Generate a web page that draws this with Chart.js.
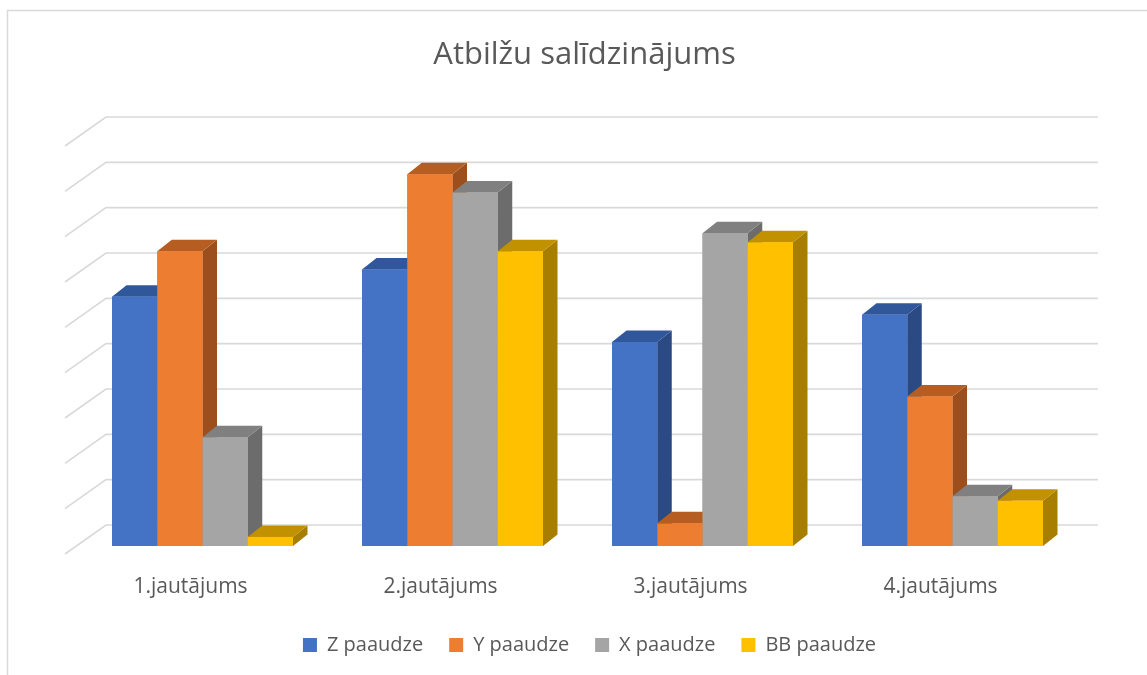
<!DOCTYPE html>
<html><head><meta charset="utf-8">
<script src="https://cdn.jsdelivr.net/npm/chart.js@4.4.0/dist/chart.umd.min.js"></script>
<style>html,body{margin:0;padding:0;background:#fff;overflow:hidden;}</style>
</head><body>
<canvas id="c" width="1147" height="675" style="width:1147px;height:675px;display:block"></canvas>
<script>
// ---- data ----
const categories = ['1.jautājums', '2.jautājums', '3.jautājums', '4.jautājums'];
const seriesNames = ['Z paaudze', 'Y paaudze', 'X paaudze', 'BB paaudze'];
const zValues  = [55, 61, 45, 51];
const yValues  = [65, 82, 5, 33];
const xValues  = [24, 78, 69, 11];
const bbValues = [2, 65, 67, 10];
const gridTicks = [0, 10, 20, 30, 40, 50, 60, 70, 80, 90];
const titleText = 'Atbilžu salīdzinājums';

// ---- styles ----
const frontColors = ['#4472C4', '#ED7D31', '#A5A5A5', '#FFC000'];
const sideColors  = ['#2B4A83', '#9C4F1C', '#6C6C6C', '#A77E00'];
const topColors   = ['#31579B', '#B65E22', '#808080', '#C29100'];
const TEXT = '#595959';
const GRID = '#D9D9D9';
const BAR_DX = 14.5, BAR_DY = -11.5;
const WALL_DX = 28.5, WALL_DY = -21, WALL_RIGHT_EXTRA = 20.5;
const FLOOR_DX = 41, FLOOR_DY = 29;

const threeD = {
  id: 'threeD',
  afterLayout(chart) {
    if (chart.legend) { chart.legend.left += 12; chart.legend.right += 12; }
    if (chart.titleBlock) { chart.titleBlock.left += 7; chart.titleBlock.right += 7; }
  },
  beforeDraw(chart) {
    const ctx = chart.ctx;
    ctx.save();
    ctx.strokeStyle = GRID;
    ctx.lineWidth = 1.5;
    ctx.beginPath();
    ctx.moveTo(7.5, 700);
    ctx.lineTo(7.5, 10.5);
    ctx.lineTo(1200, 10.5);
    ctx.stroke();
    ctx.restore();
  },
  beforeDatasetsDraw(chart) {
    const ctx = chart.ctx, ys = chart.scales.y, area = chart.chartArea;
    ctx.save();
    ctx.strokeStyle = GRID;
    ctx.lineWidth = 1.6;
    gridTicks.forEach(v => {
      const y = ys.getPixelForValue(v) + WALL_DY;
      const xb = area.left + WALL_DX;
      ctx.beginPath();
      ctx.moveTo(xb - FLOOR_DX, y + FLOOR_DY);
      ctx.lineTo(xb, y);
      ctx.lineTo(area.right + WALL_RIGHT_EXTRA, y);
      ctx.stroke();
    });
    ctx.restore();
  },
  afterDatasetsDraw(chart) {
    const ctx = chart.ctx;
    const bars = [];
    chart.data.datasets.forEach((ds, i) => {
      chart.getDatasetMeta(i).data.forEach(el => {
        const p = el.getProps(['x', 'y', 'base', 'width'], true);
        bars.push({ l: p.x - p.width / 2, r: p.x + p.width / 2, t: p.y, b: p.base, i });
      });
    });
    bars.sort((a, b) => a.l - b.l);
    ctx.save();
    bars.forEach(bar => {
      ctx.fillStyle = sideColors[bar.i];
      ctx.beginPath();
      ctx.moveTo(bar.r, bar.t);
      ctx.lineTo(bar.r + BAR_DX, bar.t + BAR_DY);
      ctx.lineTo(bar.r + BAR_DX, bar.b + BAR_DY);
      ctx.lineTo(bar.r, bar.b);
      ctx.closePath();
      ctx.fill();
      ctx.fillStyle = topColors[bar.i];
      ctx.beginPath();
      ctx.moveTo(bar.l, bar.t);
      ctx.lineTo(bar.l + BAR_DX, bar.t + BAR_DY);
      ctx.lineTo(bar.r + BAR_DX, bar.t + BAR_DY);
      ctx.lineTo(bar.r, bar.t);
      ctx.closePath();
      ctx.fill();
      ctx.fillStyle = frontColors[bar.i];
      ctx.fillRect(bar.l, bar.t, bar.r - bar.l, bar.b - bar.t);
    });
    ctx.restore();
  }
};

const seriesValues = [zValues, yValues, xValues, bbValues];
new Chart(document.getElementById('c'), {
  type: 'bar',
  data: {
    labels: categories,
    datasets: seriesNames.map((n, i) => ({
      label: n,
      data: seriesValues[i],
      backgroundColor: frontColors[i],
      borderWidth: 0,
      barPercentage: 1,
      categoryPercentage: 0.724
    }))
  },
  plugins: [threeD],
  options: {
    responsive: false,
    animation: false,
    layout: { padding: { left: 77.5, right: 69.5, top: 0, bottom: 10 } },
    plugins: {
      title: {
        display: true, text: titleText, color: TEXT,
        font: { family: 'Open Sans', size: 31, weight: 'normal', lineHeight: 1.2 },
        padding: { top: 36.4, bottom: 64.4 }
      },
      legend: {
        position: 'bottom',
        labels: {
          color: TEXT, boxWidth: 14, boxHeight: 14, padding: 26,
          font: { family: 'Open Sans', size: 20 }
        }
      },
      tooltip: { enabled: false }
    },
    scales: {
      x: {
        grid: { display: false }, border: { display: false },
        ticks: { color: TEXT, font: { family: 'Open Sans', size: 21 }, padding: 20, labelOffset: -12 },
        afterFit(scale) { scale.height = 63; }
      },
      y: { display: false, min: 0, max: 90 }
    }
  }
});
</script>
</body></html>
